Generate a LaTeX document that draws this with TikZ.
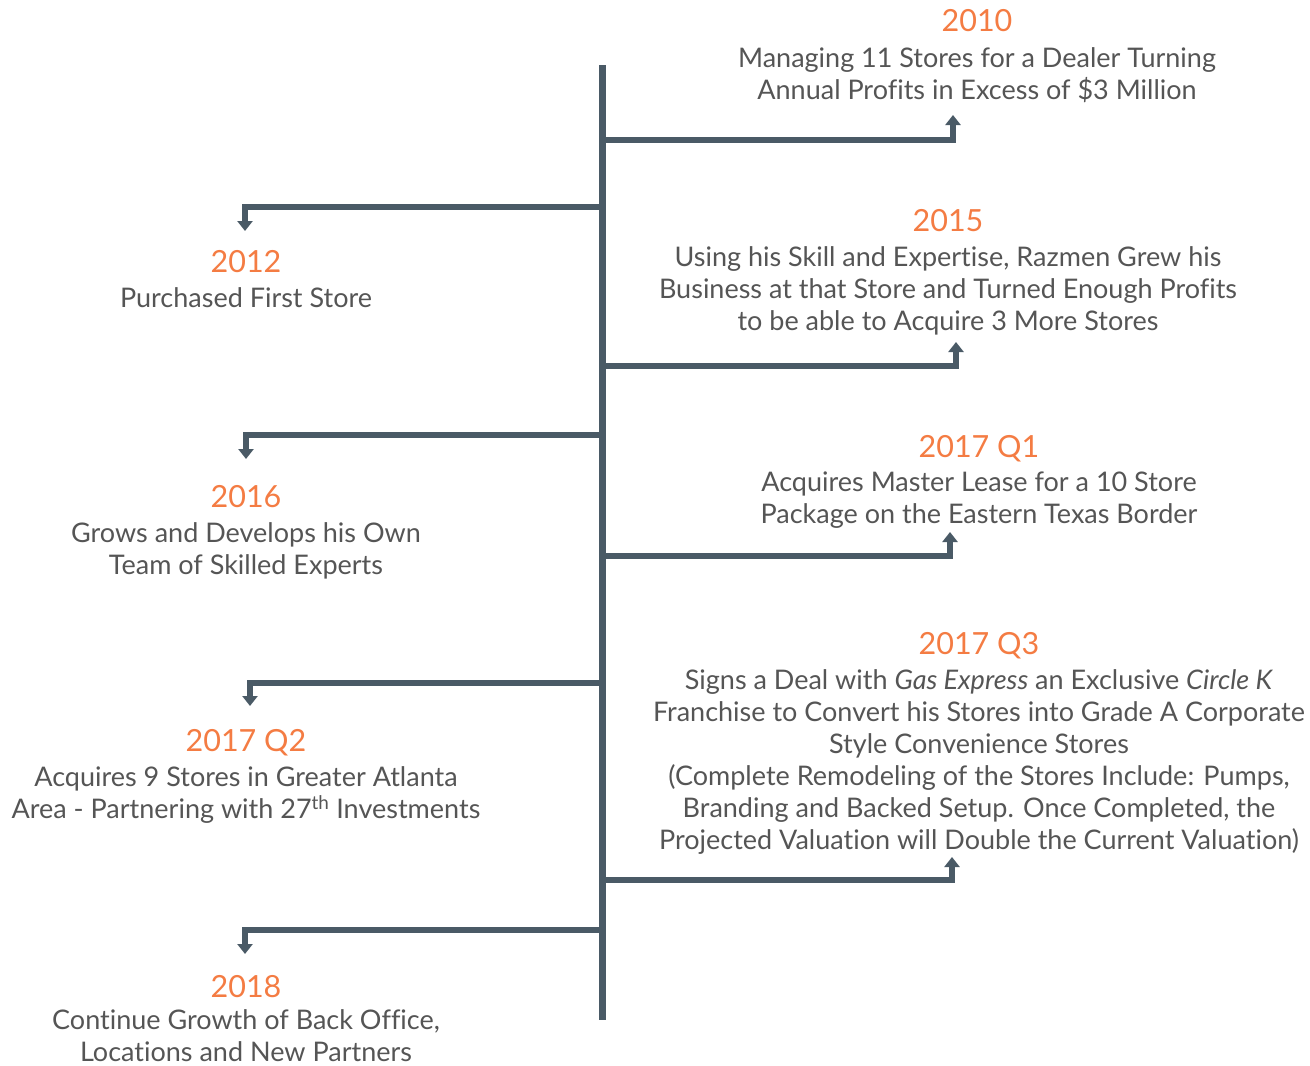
\documentclass[tikz,border=0pt]{standalone}
\usepackage{fontspec}
\setmainfont[Ligatures={NoCommon,NoRare}]{Lato}
\usetikzlibrary{arrows.meta}
\definecolor{spine}{HTML}{4A5A66}
\definecolor{yearorange}{HTML}{F47C43}
\definecolor{bodygray}{HTML}{555555}
\tikzset{
  branch/.style={line width=6pt, draw=spine, -{Triangle[width=15pt,length=10pt]}},
  year/.style={text=yearorange, font=\fontsize{30.5}{36}\selectfont, inner sep=0pt, anchor=base},
  event/.style={text=bodygray, font=\fontsize{27}{32}\selectfont, align=center, inner sep=0pt, anchor=north},
}

\begin{document}
\begin{tikzpicture}[x=1pt, y=-1pt]
  \useasboundingbox (0,0) rectangle (1310,1066);
  % spine
  \coordinate (top) at (602,65);
  \coordinate (bottom) at (602,1020);
  \draw[line width=7pt, spine] (top) -- (bottom);

  % events on the right
  \node[year] (y2010) at (977,31) {2010};
  \node[event] (t2010) at (977,47) {Managing 11 Stores for a Dealer Turning\\Annual Profits in Excess of \$3 Million};
  \node[year] (y2015) at (948,231) {2015};
  \node[event] (t2015) at (948,246) {Using his Skill and Expertise, Razmen Grew his\\Business at that Store and Turned Enough Profits\\to be able to Acquire 3 More Stores};
  \node[year] (y2017a) at (979,457) {2017 Q1};
  \node[event] (t2017a) at (979,472) {Acquires Master Lease for a 10 Store\\Package on the Eastern Texas Border};
  \node[year] (y2017c) at (979,654) {2017 Q3};
  \node[event] (t2017c) at (979,669) {Signs a Deal with \textit{Gas Express} an Exclusive \textit{Circle K}\\Franchise to Convert his Stores into Grade A Corporate\\Style Convenience Stores\\(Complete Remodeling of the Stores Include: Pumps,\\Branding and Backed Setup. Once Completed, the\\Projected Valuation will Double the Current Valuation)};

  % events on the left
  \node[year] (y2012) at (246,272) {2012};
  \node[event] (t2012) at (246,287) {Purchased First Store};
  \node[year] (y2016) at (246,507) {2016};
  \node[event] (t2016) at (246,522) {Grows and Develops his Own\\Team of Skilled Experts};
  \node[year] (y2017b) at (246,751) {2017 Q2};
  \node[event] (t2017b) at (246,766) {Acquires 9 Stores in Greater Atlanta\\Area - Partnering with 27\textsuperscript{th} Investments};
  \node[year] (y2018) at (246,997) {2018};
  \node[event] (t2018) at (246,1009) {Continue Growth of Back Office,\\Locations and New Partners};

  % branches
  \coordinate (s2010) at (602,140);  \coordinate (a2010) at (953,115);
  \coordinate (s2012) at (602,207);  \coordinate (a2012) at (245,231);
  \coordinate (s2015) at (602,366);  \coordinate (a2015) at (956,342);
  \coordinate (s2016) at (602,435);  \coordinate (a2016) at (246,459);
  \coordinate (s2017a) at (602,556); \coordinate (a2017a) at (950,532);
  \coordinate (s2017b) at (602,683); \coordinate (a2017b) at (250,706);
  \coordinate (s2017c) at (602,880); \coordinate (a2017c) at (952,857);
  \coordinate (s2018) at (602,930);  \coordinate (a2018) at (245,954);
  \foreach \e in {2010,2012,2015,2016,2017a,2017b,2017c,2018}
    \draw[branch] (s\e) -| (a\e);
\end{tikzpicture}
\end{document}
